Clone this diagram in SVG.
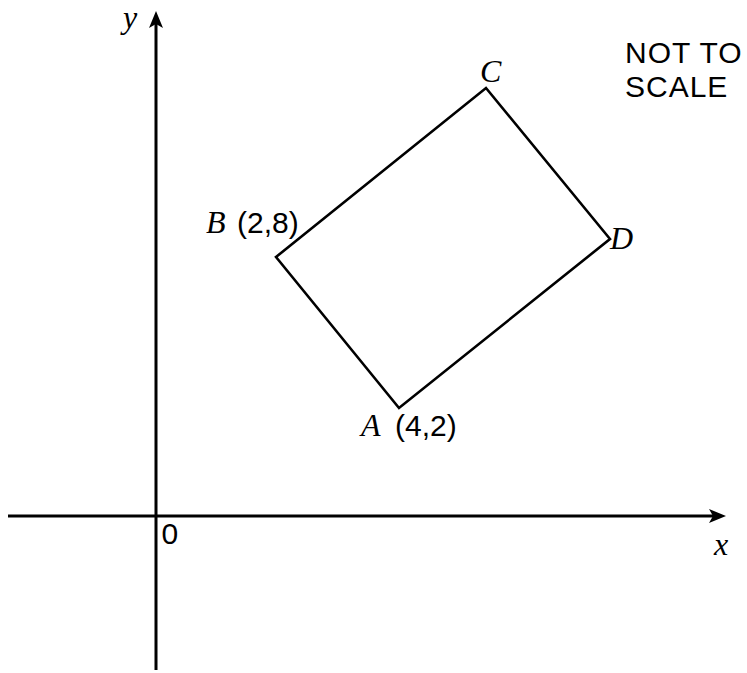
<svg xmlns="http://www.w3.org/2000/svg" width="747" height="673" viewBox="0 0 747 673">
<style>
.ax{stroke:#000;stroke-width:3;fill:none}
.sh{stroke:#000;stroke-width:2.6;fill:none;stroke-linejoin:miter}
.it{font-family:"Liberation Serif","Times New Roman",serif;font-style:italic;font-size:32px;fill:#000}
.sn{font-family:"Liberation Sans",Arial,sans-serif;font-size:30px;fill:#000}
.nt{letter-spacing:1px}
.ah{fill:#000;stroke:none}
</style>
<rect width="747" height="673" fill="#fff"/>
<g id="connectors">
<line class="ax" x1="156" y1="670" x2="156" y2="24"/>
<path class="ah" d="M156,11 L163,28 L156,24 L149,28 Z"/>
<line class="ax" x1="8" y1="516" x2="713" y2="516"/>
<path class="ah" d="M726,516 L709,523 L713,516 L709,509 Z"/>
</g>
<g id="shape">
<polygon class="sh" points="276,257 486,88 610,239 399,408"/>
</g>
<g id="labels">
<text class="it" x="123" y="28" font-size="30">y</text>
<text class="it" x="714" y="555">x</text>
<text class="sn" x="161.5" y="544">0</text>
<g id="nodeA"><text class="it" x="361" y="436">A</text><text class="sn" x="395" y="436">(4,2)</text></g>
<g id="nodeB"><text class="it" x="206" y="233">B</text><text class="sn" x="237" y="233">(2,8)</text></g>
<g id="nodeC"><text class="it" x="480" y="82">C</text></g>
<g id="nodeD"><text class="it" x="610" y="249">D</text></g>
<g id="note"><text class="sn nt" x="625" y="63">NOT TO</text><text class="sn nt" x="625" y="97">SCALE</text></g>
</g>
</svg>
